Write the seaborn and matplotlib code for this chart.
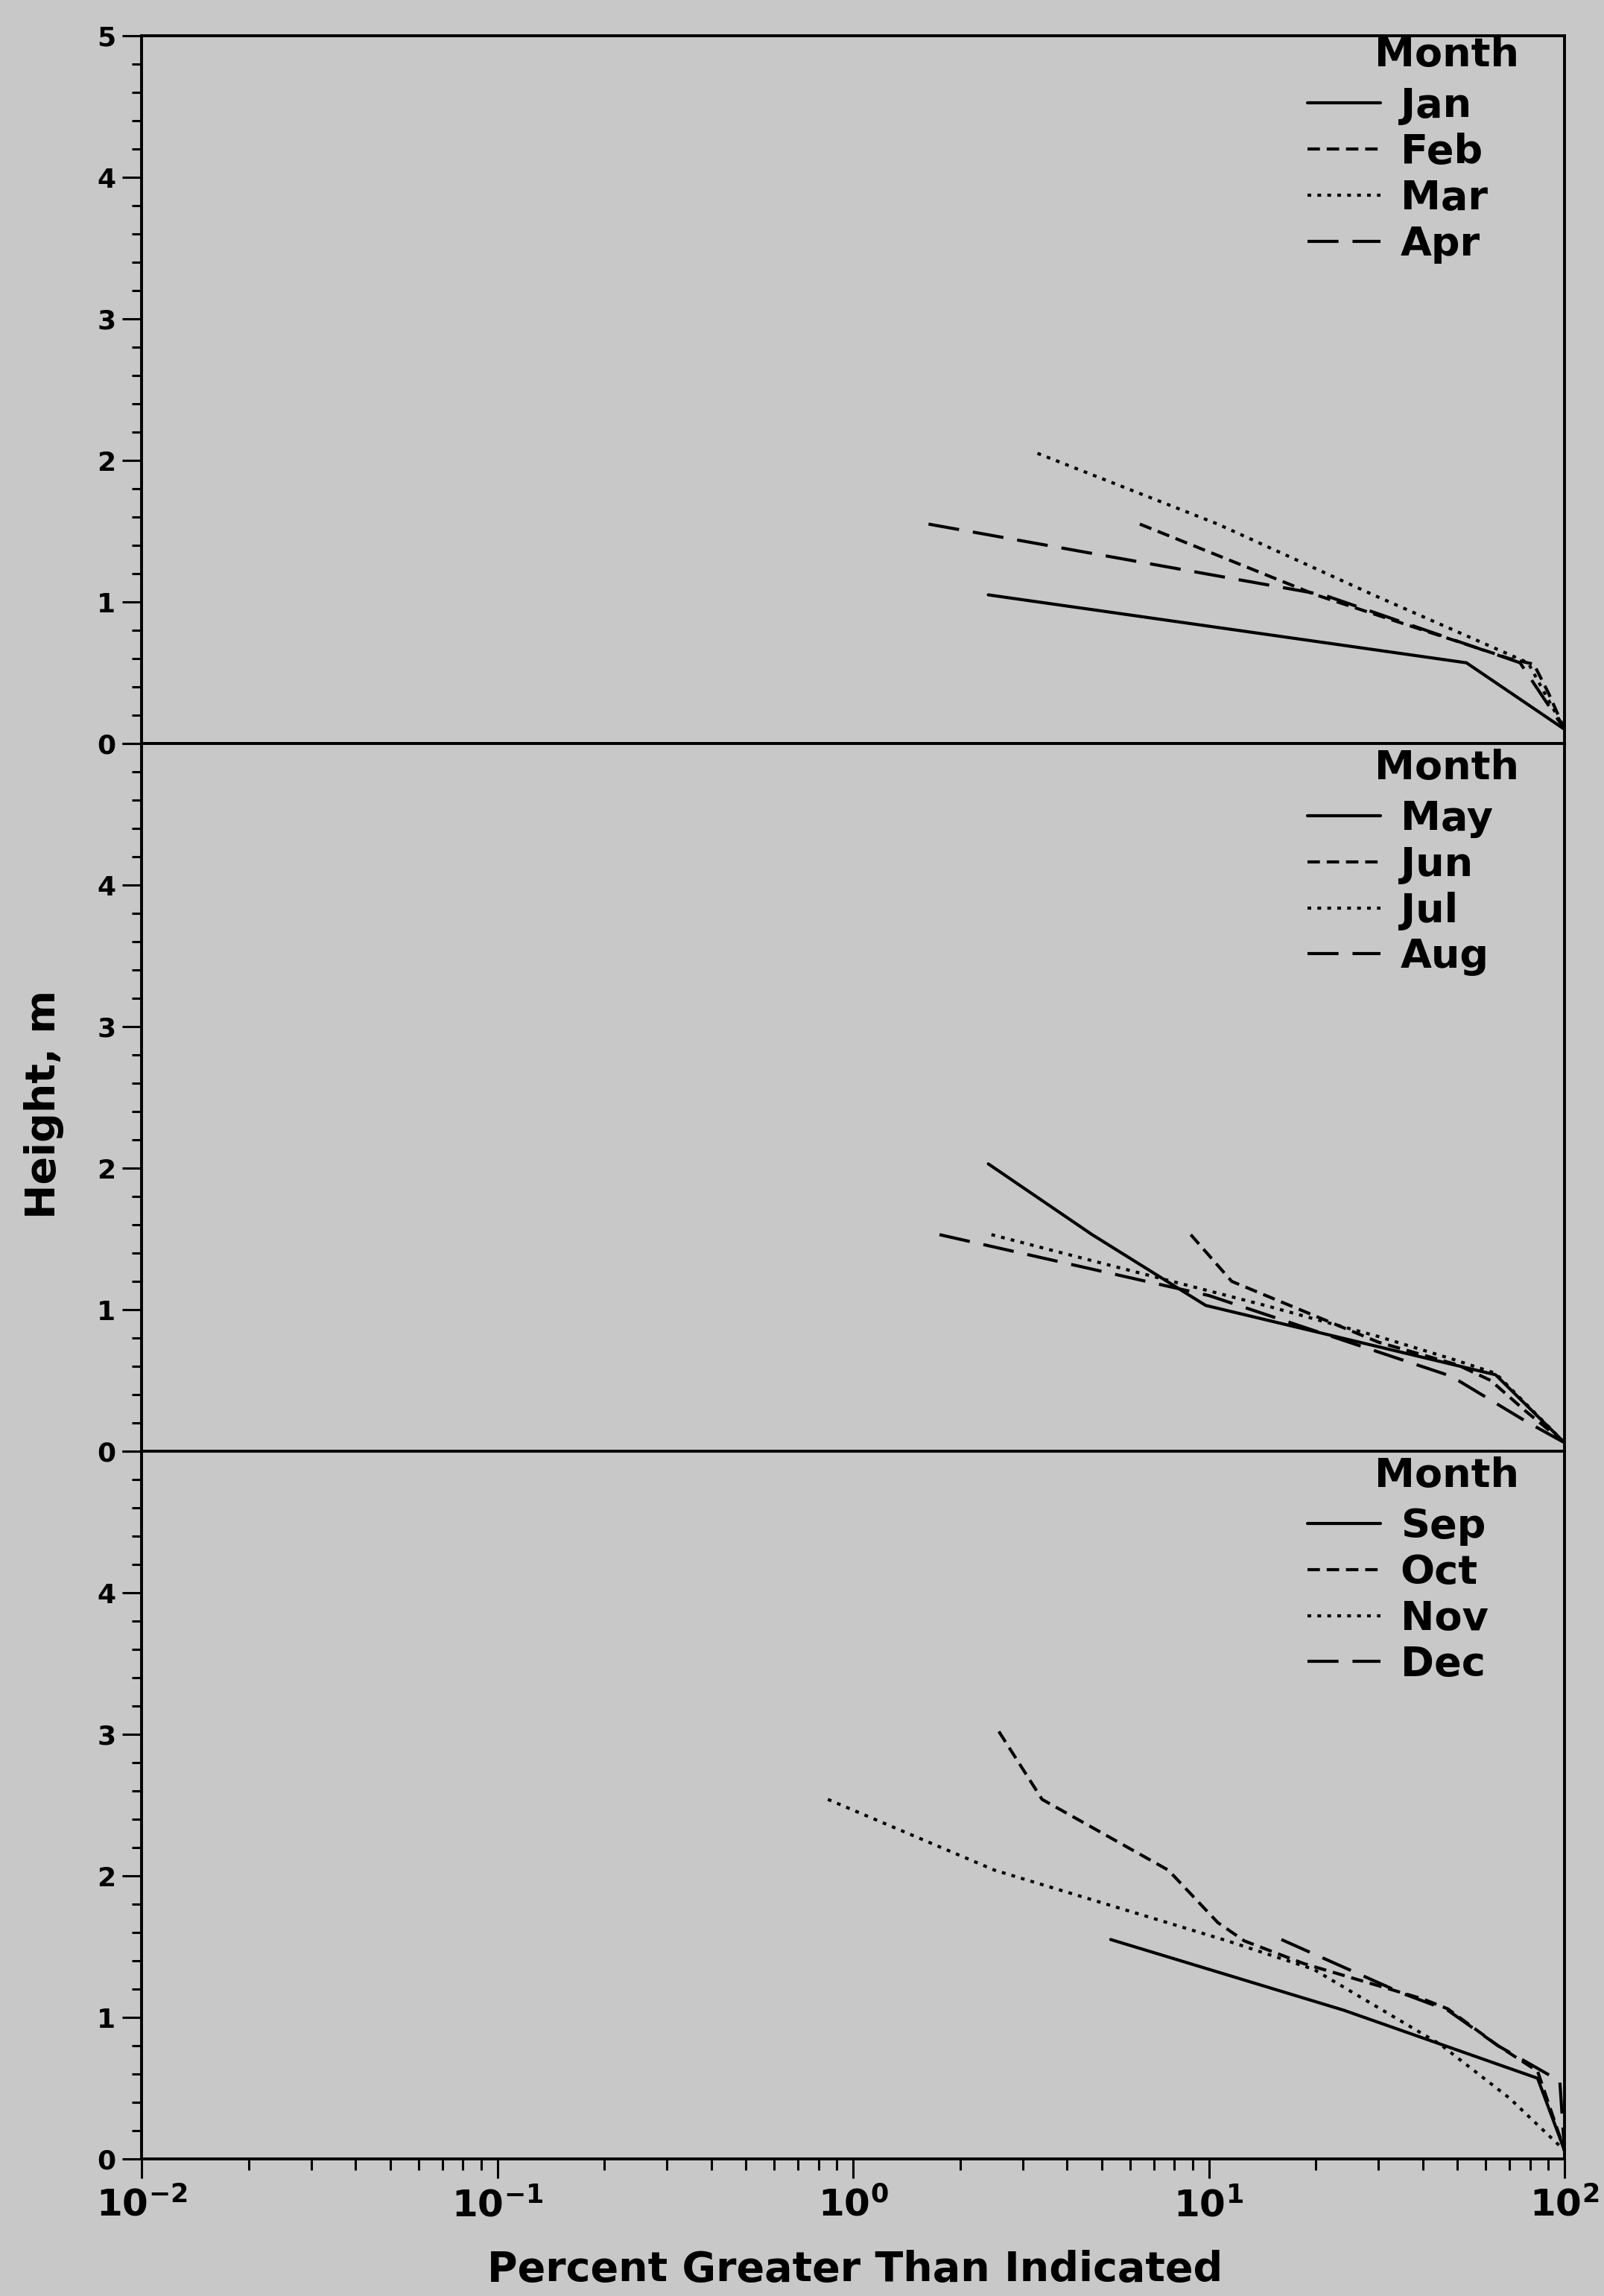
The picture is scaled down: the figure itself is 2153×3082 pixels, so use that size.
import math
import matplotlib
matplotlib.use("Agg")
import matplotlib.pyplot as plt
import seaborn as sns
import pandas as pd
from matplotlib.lines import Line2D
from matplotlib.ticker import FixedLocator, FuncFormatter, LogLocator, MultipleLocator, NullFormatter

# ---------------- data ----------------
panel1_months = ["Jan", "Feb", "Mar", "Apr"]
panel2_months = ["May", "Jun", "Jul", "Aug"]
panel3_months = ["Sep", "Oct", "Nov", "Dec"]

jan_pct = [2.4, 53, 100]
jan_h = [1.05, 0.57, 0.1]
feb_pct = [6.4, 20, 70, 82, 90, 100]
feb_h = [1.55, 1.05, 0.6, 0.56, 0.36, 0.1]
mar_pct = [3.3, 10.6, 29, 79, 100]
mar_h = [2.05, 1.55, 1.05, 0.57, 0.1]
apr_pct = [1.63, 21, 75, 100]
apr_h = [1.55, 1.05, 0.57, 0.1]

may_pct = [2.4, 4.7, 9.8, 64, 100]
may_h = [2.03, 1.53, 1.03, 0.54, 0.06]
jun_pct = [8.9, 11.6, 30, 50, 62, 78, 100]
jun_h = [1.53, 1.2, 0.77, 0.61, 0.5, 0.28, 0.06]
jul_pct = [2.45, 14.4, 30, 48.5, 64, 100]
jul_h = [1.53, 1.03, 0.81, 0.65, 0.55, 0.06]
aug_pct = [1.75, 10, 48, 78, 100]
aug_h = [1.53, 1.1, 0.53, 0.21, 0.06]

sep_pct = [5.3, 24, 84, 100]
sep_h = [1.55, 1.05, 0.57, 0.06]
oct_pct = [2.57, 3.4, 7.7, 10.6, 12.6, 18.5, 40, 47, 65, 84, 100]
oct_h = [3.02, 2.54, 2.04, 1.67, 1.54, 1.38, 1.13, 1.06, 0.8, 0.62, 0.06]
nov_pct = [0.85, 2.5, 11.3, 19.7, 44.7, 70, 100]
nov_h = [2.54, 2.04, 1.54, 1.34, 0.81, 0.43, 0.06]
dec_pct = [16, 35, 47, 65, 97, 100]
dec_h = [1.55, 1.17, 1.05, 0.8, 0.55, 0.06]

x_major = [0.01, 0.1, 1, 10, 100]
y_major = [0, 1, 2, 3, 4, 5]

series = {
    "Jan": (jan_pct, jan_h), "Feb": (feb_pct, feb_h), "Mar": (mar_pct, mar_h), "Apr": (apr_pct, apr_h),
    "May": (may_pct, may_h), "Jun": (jun_pct, jun_h), "Jul": (jul_pct, jul_h), "Aug": (aug_pct, aug_h),
    "Sep": (sep_pct, sep_h), "Oct": (oct_pct, oct_h), "Nov": (nov_pct, nov_h), "Dec": (dec_pct, dec_h),
}

# ---------------- style ----------------
BG = "#c8c8c8"
LW = 3.0
style_cycle = ["", (4, 2.2), (1.2, 2.0), (10, 4.5)]

sns.set_style("white")
plt.rcParams["font.family"] = ["DejaVu Sans"]
plt.rcParams["font.weight"] = "bold"
plt.rcParams["mathtext.fontset"] = "dejavusans"
for k in ["text.color", "axes.labelcolor", "xtick.color", "ytick.color"]:
    plt.rcParams[k] = "black"

W_PX, H_PX = 2153, 3082
fig = plt.figure(figsize=(W_PX / 100, H_PX / 100), dpi=100, facecolor=BG)

left = 190 / W_PX
width = 1910 / W_PX
ph = 950 / H_PX
b3 = 1 - 2898 / H_PX
bottoms = [b3 + 2 * ph, b3 + ph, b3]
panels = [panel1_months, panel2_months, panel3_months]
legend_top = [0.928, 0.921, 0.921]
title_y = [0.973, 0.965, 0.965]

axes = []
for i, (months, bot) in enumerate(zip(panels, bottoms)):
    ax = fig.add_axes([left, bot, width, ph])
    ax.set_facecolor(BG)
    ax.set_xscale("log")
    rows = []
    for m in months:
        px, hh = series[m]
        for a, b in zip(px, hh):
            rows.append({"month": m, "pct": a, "height": b})
    df = pd.DataFrame(rows)
    dash_map = {m: d for m, d in zip(months, style_cycle)}
    sns.lineplot(data=df, x="pct", y="height", style="month", style_order=months,
                 dashes=dash_map, color="black", linewidth=LW, estimator=None,
                 sort=False, legend=False, ax=ax)
    for ln in ax.get_lines():
        ln.set_dash_capstyle("butt")
    ax.set_xlim(0.01, 100)
    ax.set_ylim(0, 5)
    ax.set_xlabel("")
    ax.set_ylabel("")
    for sp in ax.spines.values():
        sp.set_visible(True)
        sp.set_linewidth(2.8)
        sp.set_color("black")
    # y ticks
    ax.yaxis.set_major_locator(FixedLocator(y_major))
    labels = [str(v) for v in y_major]
    if i > 0:
        labels[-1] = ""
    ax.set_yticklabels(labels)
    ax.yaxis.set_minor_locator(MultipleLocator(0.2))
    ax.tick_params(axis="y", which="major", direction="out", length=19, width=2.2,
                   labelsize=26, pad=6, left=True)
    ax.tick_params(axis="y", which="minor", direction="out", length=9.5, width=2.2, left=True)
    # x ticks
    ax.xaxis.set_major_locator(FixedLocator(x_major))
    ax.xaxis.set_minor_locator(LogLocator(base=10, subs=range(2, 10)))
    ax.xaxis.set_minor_formatter(NullFormatter())
    if i < 2:
        ax.tick_params(axis="x", which="both", length=0, labelbottom=False)
    else:
        ax.xaxis.set_major_formatter(FuncFormatter(
            lambda v, p: r"$\mathbf{10^{%d}}$" % round(math.log10(v))))
        ax.tick_params(axis="x", which="major", direction="out", length=19, width=2.2,
                       labelsize=36, pad=8, bottom=True)
        ax.tick_params(axis="x", which="minor", direction="out", length=10.5, width=2.2,
                       bottom=True)
    # legend
    handles = [Line2D([0], [0], color="black", linewidth=LW,
                      linestyle="-" if d == "" else (0, d), dash_capstyle="butt")
               for d in style_cycle]
    ax.text(0.9175, title_y[i], "Month", transform=ax.transAxes, ha="center", va="center",
            fontsize=39, fontweight="bold")
    ax.legend(handles, months, loc="upper left", bbox_to_anchor=(0.8194, legend_top[i]),
              frameon=False, handlelength=1.8, handletextpad=0.5, labelspacing=0.18,
              borderpad=0, borderaxespad=0, prop={"size": 39, "weight": "bold"})
    axes.append(ax)

axes[1].set_ylabel("Height, m", fontsize=40, fontweight="bold")
axes[1].yaxis.set_label_coords(-0.0686, 0.49)
axes[1].yaxis.label.set_va("center")
axes[2].set_xlabel("Percent Greater Than Indicated", fontsize=40, fontweight="bold")
axes[2].xaxis.set_label_coords(0.5016, -0.157)
axes[2].xaxis.label.set_va("center")

fig.savefig("out.png", dpi=100, facecolor=BG)
